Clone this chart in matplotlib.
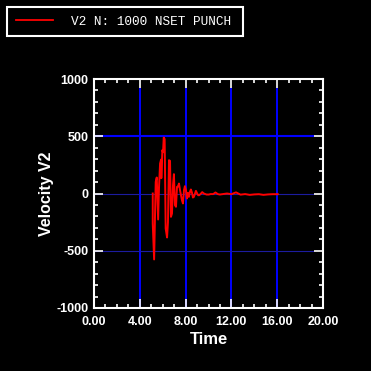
import matplotlib
matplotlib.use("Agg")
import matplotlib.pyplot as plt
from matplotlib.lines import Line2D
from matplotlib.patches import Rectangle
from matplotlib.ticker import MultipleLocator, FormatStrFormatter

plt.rcParams["axes.unicode_minus"] = False

# Data
time = [5.13, 5.13, 5.25, 5.39, 5.48, 5.60, 5.68, 5.77, 5.86, 5.88, 5.97, 6.03,
        6.09, 6.17, 6.26, 6.38, 6.46, 6.55, 6.64, 6.72, 6.81, 6.90, 6.98, 7.07,
        7.16, 7.25, 7.33, 7.42, 7.51, 7.68, 7.77, 7.86, 7.94, 8.03, 8.12, 8.20,
        8.29, 8.38, 8.46, 8.55, 8.64, 8.72, 8.81, 8.90, 9.01, 9.10, 9.19, 9.30,
        9.45, 9.59, 9.83, 10.03, 10.17, 10.41, 10.61, 10.81, 10.99, 11.19, 11.62,
        12.0, 12.4, 12.8, 13.2, 13.6, 14.0, 14.4, 14.8, 15.2, 15.6, 16.05]
velocity = [0, -262, -576, 101, 140, -227, 58, 262, 297, 134, 379, 360,
            489, 475, -306, -384, -250, 291, 285, -204, -175, 73, 169, -102,
            -116, 58, 60, 87, 30, -58, -87, 29, 64, 30, -44, 6,
            -29, 15, 35, 10, -35, -30, -5, 23, 0, -15, -15, -5,
            12, 0, -9, -9, -5, -5, 9, -5, -9, -6, 0,
            -6, 10, -10, -5, -12, -8, -6, -12, -8, -6, -6]

x_ticks = [0, 4, 8, 12, 16, 20]
y_ticks = [-1000, -500, 0, 500, 1000]
legend_label = "V2 N: 1000 NSET PUNCH"

W = 371
fig = plt.figure(figsize=(3.71, 3.71), dpi=100, facecolor="black")
ax = fig.add_axes([94 / W, 1 - 308 / W, (323 - 94) / W, (308 - 79) / W])
ax.set_facecolor("black")

# grid-like blue lines
for xv in x_ticks[1:-1]:
    ax.axvline(xv, ymax=0.956, color="#0000ff", lw=1.4, zorder=1)
ax.axhline(500, xmax=0.956, color="#0000ff", lw=1.5, zorder=1)
for yv in [0, -500]:
    ax.axhline(yv, xmax=0.956, color="#1c1ca0", lw=0.8, zorder=1)

line, = ax.plot(time, velocity, color="#ff0000", lw=1.4, zorder=3)

ax.set_xlim(0, 20)
ax.set_ylim(-1000, 1000)
ax.set_xticks(x_ticks)
ax.set_yticks(y_ticks)
ax.xaxis.set_minor_locator(MultipleLocator(1))
ax.yaxis.set_minor_locator(MultipleLocator(100))
ax.xaxis.set_major_formatter(FormatStrFormatter("%.2f"))

for s in ax.spines.values():
    s.set_color("white")
    s.set_linewidth(1.5)

ax.tick_params(which="both", direction="in", colors="white",
               top=True, right=True, labelsize=9, width=1.2)
ax.tick_params(which="major", length=6.5)
ax.tick_params(which="minor", length=3.2)
ax.tick_params(axis="x", pad=6)
ax.tick_params(axis="y", pad=4)
for lab in ax.get_xticklabels() + ax.get_yticklabels():
    lab.set_fontfamily("Liberation Sans")
    lab.set_fontweight("bold")

ax.set_xlabel("Time", color="white", fontsize=12, fontweight="bold",
              family="Liberation Sans")
ax.set_ylabel("Velocity V2", color="white", fontsize=11.5, fontweight="bold",
              family="Liberation Sans")
ax.xaxis.set_label_coords(0.5, -0.105)
ax.yaxis.set_label_coords(-0.175, 0.5)

# legend box
fig.patches.append(Rectangle((7 / W, 1 - 36 / W), 236 / W, 29 / W,
                             transform=fig.transFigure, facecolor="black",
                             edgecolor="white", lw=1.5))
fig.lines.append(Line2D([16 / W, 53 / W], [1 - 20 / W, 1 - 20 / W],
                        transform=fig.transFigure, color="#ff0000", lw=1.3))
fig.text(71 / W, 1 - 22 / W, legend_label, color="white", fontsize=9.2,
         family="Liberation Mono", va="center", ha="left")

fig.savefig("out.png", dpi=100, facecolor="black")
